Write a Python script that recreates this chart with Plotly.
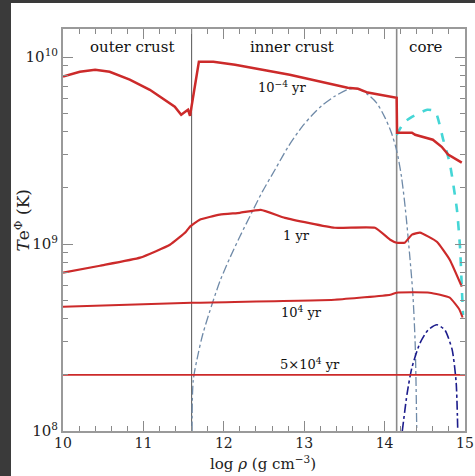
import plotly.graph_objects as go

# ---- data (log10 rho [g cm^-3], log10 T e^phi [K]) ----
rho_1e4 = [10.0, 10.21, 10.40, 10.58, 10.83, 11.08, 11.39, 11.47, 11.52, 11.555, 11.58, 11.617, 11.69,
           11.87, 12.14, 12.82, 13.54, 13.67, 13.79, 14.15, 14.155, 14.34, 14.38, 14.60, 14.71, 14.79, 14.96]
logT_1e4 = [9.896, 9.921, 9.932, 9.921, 9.879, 9.825, 9.734, 9.691, 9.707, 9.718, 9.686, 9.787, 9.975,
            9.975, 9.959, 9.905, 9.836, 9.83, 9.81, 9.782, 9.595, 9.595, 9.584, 9.558, 9.52, 9.478, 9.435]

rho_1yr = [10.0, 10.46, 10.96, 11.33, 11.53, 11.58, 11.70, 11.95, 12.20, 12.46, 12.76, 13.38, 13.88,
           14.07, 14.15, 14.25, 14.34, 14.44, 14.65, 14.81, 14.96]
logT_1yr = [8.847, 8.884, 8.927, 8.996, 9.066, 9.093, 9.13, 9.157, 9.167, 9.183, 9.14, 9.087, 9.087,
            9.023, 9.007, 9.007, 9.05, 9.061, 9.012, 8.916, 8.772]

rho_1e4yr = [10.0, 11.6, 13.38, 14.07, 14.15, 14.56, 14.81, 14.93, 14.97]
logT_1e4yr = [8.665, 8.686, 8.702, 8.729, 8.74, 8.74, 8.713, 8.65, 8.607]

rho_5e4yr = [10.0, 15.0]
logT_5e4yr = [8.30, 8.30]

rho_dd = [11.605, 11.62, 11.68, 11.74, 11.86, 11.96, 12.08, 12.20, 12.35, 12.48, 12.64, 12.80, 12.97,
          13.10, 13.22, 13.38, 13.54, 13.66, 13.79, 13.90, 14.00, 14.08, 14.15, 14.21, 14.26, 14.31,
          14.35, 14.38, 14.40]
logT_dd = [8.0, 8.27, 8.41, 8.52, 8.686, 8.81, 8.93, 9.04, 9.17, 9.28, 9.40, 9.52, 9.625,
           9.69, 9.74, 9.79, 9.826, 9.832, 9.80, 9.755, 9.68, 9.60, 9.50, 9.36, 9.18, 8.95,
           8.74, 8.47, 8.0]

rho_navy = [14.22, 14.28, 14.34, 14.44, 14.54, 14.65, 14.75, 14.84, 14.89, 14.91]
logT_navy = [8.0, 8.2, 8.34, 8.47, 8.54, 8.568, 8.54, 8.435, 8.26, 8.0]

rho_cyan = [14.15, 14.24, 14.34, 14.53, 14.63, 14.73, 14.81, 14.90, 14.94, 14.96, 14.975]
logT_cyan = [9.584, 9.65, 9.68, 9.718, 9.71, 9.557, 9.434, 9.183, 8.97, 8.77, 8.62]

boundaries = [11.6, 14.15]
region_labels = ["outer crust", "inner crust", "core"]
region_x = [10.86, 12.85, 14.51]
curve_labels = ["10<sup>−4</sup> yr", "1 yr", "10<sup>4</sup> yr", "5×10<sup>4</sup> yr"]
curve_label_x = [12.72, 12.90, 12.97, 13.07]
curve_label_logT = [9.84, 9.045, 8.638, 8.36]
ytick_vals = [1e8, 1e9, 1e10]
ytick_text = ["10<sup>8</sup>", "10<sup>9</sup>", "10<sup>10</sup>"]

FONT = "DejaVu Serif"
RED = "#cc2a2a"


def T(logs):
    return [10 ** v for v in logs]


fig = go.Figure()
fig.add_trace(go.Scatter(x=rho_dd, y=T(logT_dd), mode="lines",
                         line=dict(color="#6f8aa8", width=1.3, dash="dashdot", shape="spline", smoothing=0.8)))
fig.add_trace(go.Scatter(x=rho_navy, y=T(logT_navy), mode="lines",
                         line=dict(color="#1c1c8c", width=1.6, dash="dashdot", shape="spline", smoothing=0.6)))
fig.add_trace(go.Scatter(x=rho_cyan, y=T(logT_cyan), mode="lines",
                         line=dict(color="#45d6d6", width=2.6, dash="dash", shape="spline", smoothing=0.5)))
fig.add_trace(go.Scatter(x=rho_1e4, y=T(logT_1e4), mode="lines", line=dict(color=RED, width=2.5)))
fig.add_trace(go.Scatter(x=rho_1yr, y=T(logT_1yr), mode="lines",
                         line=dict(color=RED, width=2.2, shape="spline", smoothing=0.4)))
fig.add_trace(go.Scatter(x=rho_1e4yr, y=T(logT_1e4yr), mode="lines",
                         line=dict(color=RED, width=2.0, shape="spline", smoothing=0.4)))
fig.add_trace(go.Scatter(x=rho_5e4yr, y=T(logT_5e4yr), mode="lines", line=dict(color=RED, width=1.6)))

shapes = []
for i, b in enumerate(boundaries):
    shapes.append(dict(type="line", xref="x", yref="paper", x0=b, x1=b, y0=0, y1=1,
                       line=dict(color="#555555" if i == 0 else "#8a8a8a", width=1 if i == 0 else 1.6),
                       layer="below"))
# dark frame bands of the screenshot
shapes.append(dict(type="rect", xref="paper", yref="paper", x0=-0.16, x1=-0.1294, y0=-0.12, y1=1.08,
                   fillcolor="#3a3a3a", line=dict(width=0)))
shapes.append(dict(type="rect", xref="paper", yref="paper", x0=-0.16, x1=1.03, y0=1.0647, y1=1.08,
                   fillcolor="#3a3a3a", line=dict(width=0)))

annotations = []
for lab, x in zip(region_labels, region_x):
    annotations.append(dict(x=x, y=10.055, xref="x", yref="y", text=lab, showarrow=False,
                            font=dict(family=FONT, size=15, color="#111")))
for lab, x, ly in zip(curve_labels, curve_label_x, curve_label_logT):
    annotations.append(dict(x=x, y=ly, xref="x", yref="y", text=lab, showarrow=False,
                            font=dict(family=FONT, size=13, color="#111")))
annotations.append(dict(x=-0.103, y=0.525, xref="paper", yref="paper", textangle=-90,
                        xanchor="center", yanchor="middle",
                        text="<i>T</i>e<sup>Φ</sup> (K)", showarrow=False,
                        font=dict(family=FONT, size=17, color="#222")))
annotations.append(dict(x=0.4975, y=-0.08, xref="paper", yref="paper",
                        xanchor="center", yanchor="middle",
                        text="log <i>ρ</i> (g cm<sup>−3</sup>)", showarrow=False,
                        font=dict(family=FONT, size=15, color="#222")))

axis_common = dict(showline=True, linecolor="#9a9a9a", linewidth=2, mirror="ticks",
                   ticks="inside", tickcolor="#8a8a8a", tickwidth=1.3, ticklen=10,
                   showgrid=False, zeroline=False, automargin=False)

fig.update_layout(
    width=475, height=476, autosize=False,
    margin=dict(l=63, r=10, t=29, b=45),
    paper_bgcolor="white", plot_bgcolor="white",
    showlegend=False,
    shapes=shapes, annotations=annotations,
    xaxis=dict(range=[10, 15], dtick=1, tick0=10, ticklabelstandoff=-2,
               tickfont=dict(family=FONT, size=14, color="#222"),
               minor=dict(dtick=0.2, ticks="inside", ticklen=5, tickcolor="#8a8a8a", tickwidth=1.2),
               **axis_common),
    yaxis=dict(type="log", range=[8, 10.15], tickvals=ytick_vals, ticktext=ytick_text,
               tickfont=dict(family=FONT, size=15, color="#222"),
               minor=dict(dtick="D1", ticks="inside", ticklen=5, tickcolor="#8a8a8a", tickwidth=1.2),
               **axis_common),
)

fig.write_html(
    "out.html",
    config={"responsive": False},
    post_script=("document.documentElement.style.overflow='hidden';"
                 "document.body.style.overflow='hidden';document.body.style.margin='0';"),
)
